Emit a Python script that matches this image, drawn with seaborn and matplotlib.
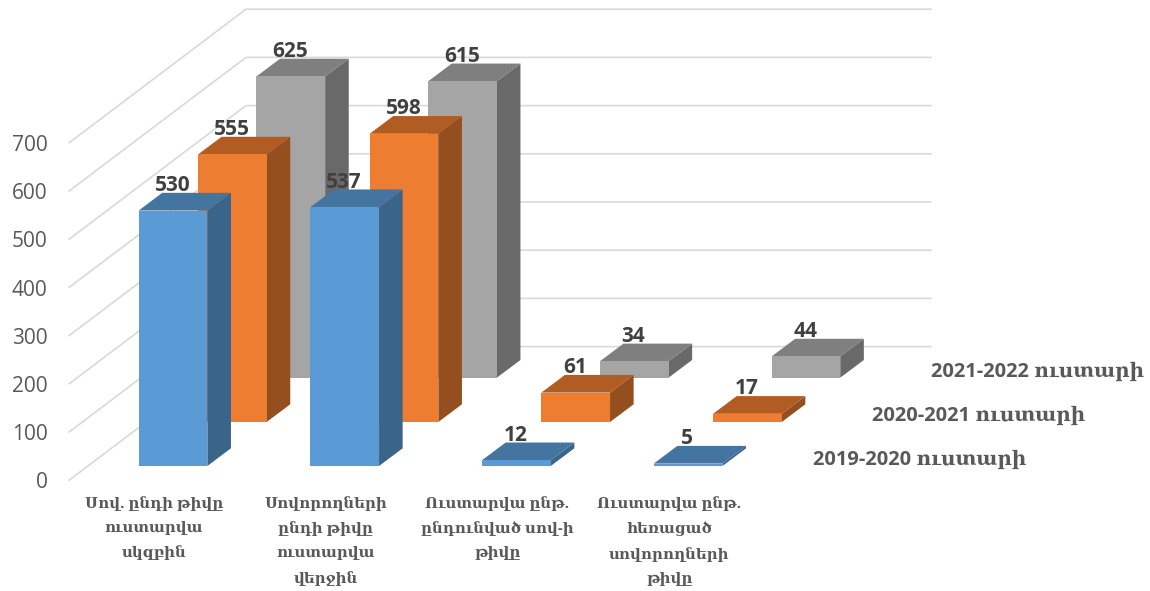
# 3D-looking clustered bars built on seaborn barplot
import matplotlib
matplotlib.use('Agg')
import matplotlib.pyplot as plt
import seaborn as sns

# Data
categories = ['Սով. ընդի թիվը\nուստարվա\nսկզբին',
              'Սովորողների\nընդի թիվը\nուստարվա\nվերջին',
              'Ուստարվա ընթ.\nընդունված սով-ի\nթիվը',
              'Ուստարվա ընթ.\nհեռացած\nսովորողների\nթիվը']
series_names = ['2019-2020 ուստարի', '2020-2021 ուստարի', '2021-2022 ուստարի']
values_2019 = [530, 537, 12, 5]
values_2020 = [555, 598, 61, 17]
values_2021 = [625, 615, 34, 44]
y_ticks = [0, 100, 200, 300, 400, 500, 600, 700]

# Colours: front, side, top
front_colors = ['#5B9BD5', '#ED7D31', '#A5A5A5']
side_colors = ['#3A6488', '#954F1E', '#696969']
top_colors = ['#4474A0', '#B15C23', '#7F7F7F']

sns.set_theme(style='white')
plt.rcParams['font.family'] = ['Open Sans', 'DejaVu Serif']

W, H = 1150, 591
fig = plt.figure(figsize=(W / 100, H / 100), dpi=100)
ax = fig.add_axes([0, 0, 1, 1])

# Scale: one category is 171.7 px, 100 units are 48.2 px
PX_X = 171.7
PX_Y = 0.482
X0 = 173.0
Y0 = 466.0


def xpx(px):
    return (px - X0) / PX_X


def ypx(px):
    return (Y0 - px) / PX_Y


depth_x = 23.6 / PX_X
depth_y = 17.7 / PX_Y
series_dx = [0, 59.3 / PX_X, 117.8 / PX_X]
series_dy = [0, 44.0 / PX_Y, 88.3 / PX_Y]
series = [values_2019, values_2020, values_2021]

# Back wall grid
wall_front = xpx(69)
wall_back = xpx(246)
wall_right = xpx(931)
front_shift = ypx(480.3)
back_shift = ypx(346.6)
for t in y_ticks:
    ax.plot([wall_front, wall_back, wall_right],
            [t + front_shift, t + back_shift, t + back_shift],
            color='#D9D9D9', lw=1.2, zorder=1, solid_joinstyle='miter')
    ax.text(xpx(47.7), t + front_shift, str(t), ha='right', va='center_baseline',
            fontsize=15, color='#595959')

# Bars, back series first
for s in [2, 1, 0]:
    n_before = len(ax.patches)
    sns.barplot(x=categories, y=series[s], color=front_colors[s], saturation=1,
                width=0.4, linewidth=0, errorbar=None, ax=ax, zorder=10 * (3 - s) + 1)
    bars = list(ax.patches[n_before:])
    for bar, val in zip(bars, series[s]):
        bar.set_x(bar.get_x() + series_dx[s])
        bar.set_y(series_dy[s])
        x0 = bar.get_x()
        x1 = x0 + bar.get_width()
        y0 = series_dy[s]
        y1 = y0 + val
        ax.fill([x1, x1 + depth_x, x1 + depth_x, x1],
                [y0, y0 + depth_y, y1 + depth_y, y1],
                color=side_colors[s], lw=0, zorder=10 * (3 - s))
        ax.fill([x0, x0 + depth_x, x1 + depth_x, x1],
                [y1, y1 + depth_y, y1 + depth_y, y1],
                color=top_colors[s], lw=0, zorder=10 * (3 - s))
        ax.text((x0 + x1) / 2 - 0.004, y1 + depth_y + 4, str(val), ha='center', va='baseline',
                fontsize=15, fontweight='bold', color='#404040', zorder=50)

# Category labels
for i, cat in enumerate(categories):
    ax.text(i - 19 / PX_X, ypx(496), cat, ha='center', va='top', fontsize=10.8,
            fontweight='bold', color='#595959', linespacing=1.9,
            family=['Open Sans', 'DejaVu Serif'])

# Series labels on the depth axis
label_x = [813, 872, 931]
label_y = [459.5, 415.5, 371.5]
for name, lx, ly in zip(series_names, label_x, label_y):
    ax.text(xpx(lx), ypx(ly), name, ha='left', va='center', fontsize=14.4,
            fontweight='bold', color='#595959')

ax.set_xlim(xpx(0), xpx(W))
ax.set_ylim(ypx(H), ypx(0))
ax.set_axis_off()

fig.savefig('out.png', dpi=100)
